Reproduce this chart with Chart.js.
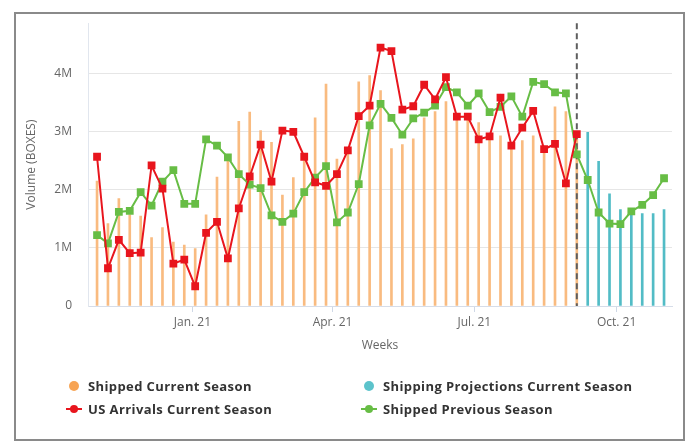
<!DOCTYPE html>
<html>
<head>
<meta charset="utf-8">
<script src="https://cdn.jsdelivr.net/npm/chart.js@4.4.1/dist/chart.umd.min.js"></script>
<style>
  html, body { margin: 0; padding: 0; background: #fff; }
  body { width: 691px; height: 444px; position: relative; overflow: hidden; font-family: "Open Sans", sans-serif; }
  #chart { position: absolute; left: 0; top: 0; }
  .frame { position: absolute; left: 14px; top: 12px; width: 671px; height: 429px; border: 2px solid #8a8a8a; box-sizing: border-box; pointer-events: none; }
  .legend-item { position: absolute; font-size: 13px; letter-spacing: 0.4px; font-weight: 700; color: #333; white-space: nowrap; line-height: 16px; }
  .legend-item .mark { position: absolute; top: 8px; }
  .dot { position: absolute; border-radius: 50%; }
  .seg { position: absolute; height: 2px; }
</style>
</head>
<body>
<canvas id="chart" width="691" height="444"></canvas>
<div class="frame"></div>
<div id="legend"></div>
<script>
// Weekly volumes in millions of boxes, week 0 .. week 52
const shippedCurrent = [
    2.15, 1.42, 1.85, 1.57, 1.55, 1.18, 1.35, 1.10, 1.05, 0.99,
    1.57, 2.22, 2.49, 3.18, 3.34, 3.02, 2.82, 1.91, 2.21, 2.50,
    3.24, 3.82, 2.53, 2.70, 3.86, 3.97, 3.71, 2.71, 2.78, 2.88,
    3.24, 3.35, 3.52, 3.32, 3.27, 3.16, 2.93, 2.93, 2.72, 2.85,
    2.93, 2.74, 3.43, 3.35, 2.90
];
// projections start right after the last shipped week
const projections = [2.99, 2.49, 1.93, 1.66, 1.62, 1.59, 1.59, 1.66];
const usArrivals = [
    2.57, 0.65, 1.14, 0.91, 0.92, 2.42, 2.02, 0.73, 0.80, 0.34,
    1.26, 1.45, 0.82, 1.68, 2.23, 2.78, 2.14, 3.02, 3.00, 2.57,
    2.13, 2.07, 2.27, 2.68, 3.27, 3.45, 4.45, 4.39, 3.38, 3.44,
    3.81, 3.56, 3.94, 3.26, 3.26, 2.87, 2.92, 3.59, 2.76, 3.07,
    3.36, 2.70, 2.79, 2.11, 2.96
];
const shippedPrevious = [
    1.22, 1.08, 1.62, 1.64, 1.96, 1.73, 2.14, 2.34, 1.76, 1.76,
    2.87, 2.76, 2.56, 2.27, 2.09, 2.03, 1.56, 1.45, 1.59, 1.96,
    2.21, 2.41, 1.44, 1.61, 2.10, 3.11, 3.48, 3.24, 2.95, 3.23,
    3.33, 3.45, 3.77, 3.68, 3.45, 3.66, 3.34, 3.43, 3.61, 3.26,
    3.86, 3.82, 3.68, 3.66, 2.61, 2.17, 1.61, 1.42, 1.41, 1.63,
    1.74, 1.91, 2.20
];

// month ticks, in weeks from the first week
const monthTicks = [8.75, 21.6, 34.6, 47.65];
const monthLabels = ['Jan. 21', 'Apr. 21', 'Jul. 21', 'Oct. 21'];
const yTicks = [0, 1, 2, 3, 4];
const currentWeek = 44;

const toPoints = (arr, start = 0) => arr.map((v, i) => ({ x: start + i, y: v }));

const ORANGE = '#f7a454';
const TEAL = '#5cc3cb';
const RED = '#e8151d';
const GREEN = '#67bd45';

// vertical dashed marker drawn above the bars but under the lines
const currentWeekLine = {
    id: 'currentWeekLine',
    afterDatasetDraw(chart, args) {
        if (args.index !== 1) return;
        const { ctx, chartArea } = chart;
        const x = chart.scales.x.getPixelForValue(currentWeek);
        ctx.save();
        ctx.strokeStyle = '#5e5e5e';
        ctx.lineWidth = 2;
        ctx.setLineDash([6, 4]);
        ctx.beginPath();
        ctx.moveTo(x, chartArea.top);
        ctx.lineTo(x, chartArea.bottom);
        ctx.stroke();
        ctx.restore();
    }
};

const axisFont = { family: '"Open Sans", sans-serif', size: 12 };

new Chart(document.getElementById('chart'), {
    type: 'bar',
    data: {
        datasets: [
            {
                label: 'Shipped Current Season',
                data: toPoints(shippedCurrent),
                backgroundColor: '#f9bb80',
                barThickness: 2,
                grouped: false,
                order: 4
            },
            {
                label: 'Shipping Projections Current Season',
                data: toPoints(projections, shippedCurrent.length),
                backgroundColor: '#52bcc6',
                barThickness: 2,
                grouped: false,
                order: 3
            },
            {
                type: 'line',
                label: 'US Arrivals Current Season',
                data: toPoints(usArrivals),
                borderColor: RED,
                backgroundColor: RED,
                borderWidth: 2,
                pointStyle: 'rect',
                pointRadius: 5.5,
                pointBorderWidth: 0,
                tension: 0,
                order: 1
            },
            {
                type: 'line',
                label: 'Shipped Previous Season',
                data: toPoints(shippedPrevious),
                borderColor: GREEN,
                backgroundColor: GREEN,
                borderWidth: 2,
                pointStyle: 'rect',
                pointRadius: 5.5,
                pointBorderWidth: 0,
                tension: 0,
                order: 2
            }
        ]
    },
    options: {
        responsive: false,
        animation: false,
        layout: { padding: { top: 14, right: 19, left: 0, bottom: 0 } },
        plugins: {
            legend: { display: false },
            tooltip: { enabled: false }
        },
        scales: {
            x: {
                type: 'linear',
                min: -0.83,
                max: 52.73,
                offset: false,
                afterBuildTicks: (scale) => {
                    scale.ticks = monthTicks.map(v => ({ value: v }));
                },
                afterFit: (scale) => { scale.height = 138; },
                ticks: {
                    callback: (value, index) => monthLabels[index],
                    color: '#666',
                    font: axisFont,
                    padding: 3,
                    maxRotation: 0,
                    autoSkip: false
                },
                grid: {
                    offset: false,
                    drawOnChartArea: false,
                    drawTicks: true,
                    tickLength: 6,
                    color: '#cfd8e6'
                },
                border: { display: true, color: '#d6dde9' },
                title: {
                    display: true,
                    text: 'Weeks',
                    color: '#666',
                    font: axisFont,
                    padding: { top: 0, bottom: 91 }
                }
            },
            y: {
                min: 0,
                max: 4.87,
                afterBuildTicks: (scale) => {
                    scale.ticks = yTicks.map(v => ({ value: v }));
                },
                afterFit: (scale) => { scale.width = 88; },
                ticks: {
                    callback: (value) => value === 0 ? '0' : value + 'M',
                    color: '#666',
                    font: axisFont,
                    padding: 16
                },
                grid: {
                    color: '#e6e6e6',
                    drawTicks: false
                },
                border: { display: true, color: '#e1e6ee' },
                title: {
                    display: true,
                    text: 'Volume (BOXES)',
                    color: '#666',
                    font: axisFont,
                    padding: { top: 24, bottom: 0 }
                }
            }
        }
    },
    plugins: [currentWeekLine]
});

// HTML legend in two columns
const legendItems = [
    { text: 'Shipped Current Season', kind: 'dot', color: ORANGE, x: 74, y: 386 },
    { text: 'Shipping Projections Current Season', kind: 'dot', color: TEAL, x: 369, y: 386 },
    { text: 'US Arrivals Current Season', kind: 'line', color: RED, x: 74, y: 409 },
    { text: 'Shipped Previous Season', kind: 'line', color: GREEN, x: 369, y: 409 }
];
const legend = document.getElementById('legend');
legendItems.forEach(item => {
    const el = document.createElement('div');
    el.className = 'legend-item';
    el.style.left = (item.x + 14) + 'px';
    el.style.top = (item.y - 8) + 'px';
    el.textContent = item.text;
    const mark = document.createElement('div');
    mark.className = 'mark';
    mark.style.left = '-14px';
    if (item.kind === 'line') {
        const seg = document.createElement('div');
        seg.className = 'seg';
        seg.style.left = '-8px';
        seg.style.top = '-1px';
        seg.style.width = '16px';
        seg.style.background = item.color;
        mark.appendChild(seg);
        const d = document.createElement('div');
        d.className = 'dot';
        d.style.left = '-4px'; d.style.top = '-4px';
        d.style.width = '8px'; d.style.height = '8px';
        d.style.background = item.color;
        mark.appendChild(d);
    } else {
        const d = document.createElement('div');
        d.className = 'dot';
        d.style.left = '-5px'; d.style.top = '-5px';
        d.style.width = '10px'; d.style.height = '10px';
        d.style.background = item.color;
        mark.appendChild(d);
    }
    el.appendChild(mark);
    legend.appendChild(el);
});
</script>
</body>
</html>
